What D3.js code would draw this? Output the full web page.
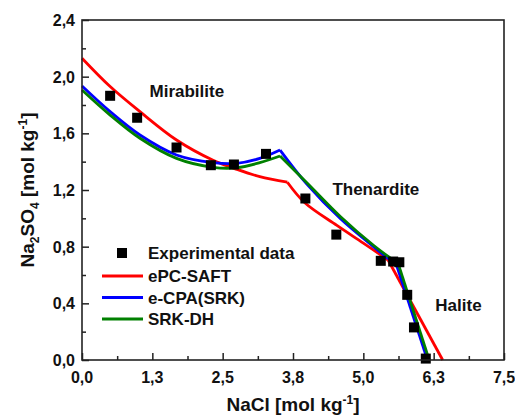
<!DOCTYPE html>
<html>
<head>
<meta charset="utf-8">
<script src="https://cdn.jsdelivr.net/npm/d3@7"></script>
<style>
  body { margin: 0; background: #fff; }
  text { font-family: "Liberation Sans", Arial, sans-serif; font-weight: bold; fill: #111; }
</style>
</head>
<body>
<svg id="chart" width="515" height="416"></svg>
<script>
// experimental solubility points
const expX = [0.50, 0.98, 1.68, 2.29, 2.70, 3.27, 3.97, 4.52, 5.31, 5.53, 5.64, 5.78, 5.90, 6.11];
const expY = [1.865, 1.71, 1.50, 1.375, 1.38, 1.455, 1.14, 0.885, 0.70, 0.695, 0.69, 0.46, 0.23, 0.01];

// model curves (kinks = invariant points where the branch changes)
const saftX = [0, 0.5, 1.03, 1.68, 2.33, 2.75, 3.16, 3.65, 3.96, 4.53, 5.0, 5.44, 6.41];
const saftY = [2.13, 1.93, 1.753, 1.553, 1.41, 1.346, 1.294, 1.255, 1.11, 0.95, 0.825, 0.706, 0];
const saftKinks = [3.65, 5.44];

const cpaX = [0, 0.5, 1.03, 1.68, 2.33, 2.75, 3.16, 3.52, 4.0, 4.6, 5.18, 5.59, 6.14];
const cpaY = [1.934, 1.753, 1.588, 1.447, 1.393, 1.388, 1.423, 1.482, 1.24, 0.995, 0.80, 0.67, 0];
const cpaKinks = [3.52, 5.59];

const dhX = [0, 0.5, 1.03, 1.68, 2.33, 2.75, 3.16, 3.52, 4.0, 4.6, 5.18, 5.62, 6.17];
const dhY = [1.906, 1.729, 1.565, 1.423, 1.36, 1.357, 1.393, 1.44, 1.25, 1.01, 0.81, 0.68, 0];
const dhKinks = [3.52, 5.62];

const xTicks = [0, 1.25, 2.5, 3.75, 5, 6.25, 7.5];
const xTickLabels = ["0,0", "1,3", "2,5", "3,8", "5,0", "6,3", "7,5"];
const yTicks = [0, 0.4, 0.8, 1.2, 1.6, 2.0, 2.4];
const yTickLabels = ["0,0", "0,4", "0,8", "1,2", "1,6", "2,0", "2,4"];

const seriesNames = ["ePC-SAFT", "e-CPA(SRK)", "SRK-DH"];
const seriesColors = ["#ff0000", "#0000ff", "#008000"];
const regionLabels = ["Mirabilite", "Thenardite", "Halite"];

const margin = { top: 20, right: 11, bottom: 56, left: 82 };
const W = 515, H = 416;

const svg = d3.select("#chart");

const x = d3.scaleLinear().domain([0, 7.5]).range([margin.left, W - margin.right]);
const y = d3.scaleLinear().domain([0, 2.4]).range([H - margin.bottom, margin.top]);

// split a curve at its kinks so each branch gets its own smooth path
function branches(xs, ys, kinks) {
    const segs = [];
    let cur = [];
    xs.forEach((v, i) => {
        const p = [v, ys[i]];
        cur.push(p);
        if (kinks.includes(v)) {
            segs.push(cur);
            cur = [p];
        }
    });
    segs.push(cur);
    return segs;
}

const line = d3.line()
    .x(d => x(d[0]))
    .y(d => y(d[1]))
    .curve(d3.curveCatmullRom.alpha(0.5));

const models = [
    [saftX, saftY, saftKinks],
    [cpaX, cpaY, cpaKinks],
    [dhX, dhY, dhKinks]
];

models.forEach((m, i) => {
    svg.append("g").selectAll("path")
        .data(branches(m[0], m[1], m[2]))
        .enter().append("path")
        .attr("d", line)
        .attr("fill", "none")
        .attr("stroke", seriesColors[i])
        .attr("stroke-width", 2.8)
        .attr("stroke-linejoin", "miter");
});

// experimental squares
svg.append("g").selectAll("rect")
    .data(expX.map((v, i) => [v, expY[i]]))
    .enter().append("rect")
    .attr("x", d => x(d[0]) - 5)
    .attr("y", d => y(d[1]) - 5)
    .attr("width", 10)
    .attr("height", 10)
    .attr("fill", "#000");

// axes with inward ticks
const xAxis = svg.append("g")
    .attr("transform", "translate(0," + (H - margin.bottom) + ")")
    .call(d3.axisBottom(x).tickValues(d3.range(0, 7.51, 0.625)).tickSize(-4).tickFormat(""));
xAxis.selectAll(".tick line").filter(d => xTicks.some(t => Math.abs(t - d) < 1e-6)).attr("y2", -7);

const yAxis = svg.append("g")
    .attr("transform", "translate(" + margin.left + ",0)")
    .call(d3.axisLeft(y).tickValues(d3.range(0, 2.41, 0.2)).tickSize(-4).tickFormat(""));
yAxis.selectAll(".tick line").filter(d => yTicks.some(t => Math.abs(t - d) < 1e-6)).attr("x2", 7);

svg.selectAll(".domain").remove();
svg.selectAll(".tick line").attr("stroke", "#222").attr("stroke-width", 1.5);

// frame (top & right without ticks)
svg.append("rect")
    .attr("x", margin.left).attr("y", margin.top)
    .attr("width", W - margin.right - margin.left)
    .attr("height", H - margin.bottom - margin.top)
    .attr("fill", "none").attr("stroke", "#222").attr("stroke-width", 1.6);

// tick labels
svg.append("g").selectAll("text")
    .data(xTicks)
    .enter().append("text")
    .attr("x", d => x(d))
    .attr("y", H - margin.bottom + 23)
    .attr("text-anchor", "middle")
    .style("font-size", "16px")
    .text((d, i) => xTickLabels[i]);

svg.append("g").selectAll("text")
    .data(yTicks)
    .enter().append("text")
    .attr("x", margin.left - 7)
    .attr("y", d => y(d) + 6)
    .attr("text-anchor", "end")
    .style("font-size", "16px")
    .text((d, i) => yTickLabels[i]);

// axis titles
const xt = svg.append("text")
    .attr("x", (margin.left + W - margin.right) / 2)
    .attr("y", 411)
    .attr("text-anchor", "middle")
    .style("font-size", "19px");
xt.append("tspan").text("NaCl [mol kg");
xt.append("tspan").attr("dy", -7).style("font-size", "12px").text("-1");
xt.append("tspan").attr("dy", 7).text("]");

const yt = svg.append("text")
    .attr("transform", "translate(34," + ((margin.top + H - margin.bottom) / 2) + ") rotate(-90)")
    .attr("text-anchor", "middle")
    .style("font-size", "19px");
yt.append("tspan").text("Na");
yt.append("tspan").attr("dy", 5).style("font-size", "12px").text("2");
yt.append("tspan").attr("dy", -5).text("SO");
yt.append("tspan").attr("dy", 5).style("font-size", "12px").text("4");
yt.append("tspan").attr("dy", -5).text(" [mol kg");
yt.append("tspan").attr("dy", -7).style("font-size", "12px").text("-1");
yt.append("tspan").attr("dy", 7).text("]");

// region labels
const regionPos = [[1.2, 1.855], [4.45, 1.165], [6.28, 0.345]];
svg.append("g").selectAll("text")
    .data(regionLabels)
    .enter().append("text")
    .attr("x", (d, i) => x(regionPos[i][0]))
    .attr("y", (d, i) => y(regionPos[i][1]))
    .style("font-size", "17px")
    .text(d => d);

// legend
const lg = svg.append("g");
lg.append("rect").attr("x", 117).attr("y", 248).attr("width", 10).attr("height", 10).attr("fill", "#000");
lg.append("text").attr("x", 148).attr("y", 259).style("font-size", "17px").text("Experimental data");
seriesNames.forEach((n, i) => {
    const ly = 276 + i * 21.5;
    lg.append("line").attr("x1", 102).attr("x2", 143).attr("y1", ly).attr("y2", ly)
        .attr("stroke", seriesColors[i]).attr("stroke-width", 2.8);
    lg.append("text").attr("x", 148).attr("y", ly + 6).style("font-size", "17px").text(n);
});
</script>
</body>
</html>
